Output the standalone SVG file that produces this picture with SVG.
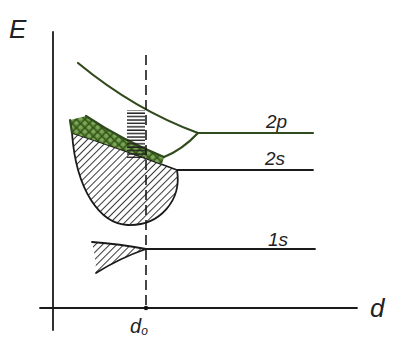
<svg xmlns="http://www.w3.org/2000/svg" width="396" height="340" viewBox="0 0 396 340">
<defs>
<style>
.ln{fill:none;stroke:#1a1a1a;stroke-width:1.8;stroke-linecap:round}
.gr{fill:none;stroke:#2f4a1c;stroke-width:2.2;stroke-linecap:round}
.lbl{font-family:"Liberation Sans",Arial,sans-serif;font-style:italic;fill:#222}
</style>
<pattern id="hatch" patternUnits="userSpaceOnUse" width="5" height="5" patternTransform="rotate(45)">
<rect width="5" height="5" fill="#fff"/>
<line x1="0" y1="0" x2="0" y2="5" stroke="#222" stroke-width="1.8"/>
</pattern>
<pattern id="cross" patternUnits="userSpaceOnUse" width="6" height="6" patternTransform="rotate(45)">
<rect width="6" height="6" fill="#4f7a2a"/>
<circle cx="3" cy="3" r="2" fill="#7fa85a"/>
<path d="M0 0H6M0 0V6" stroke="#1c2e10" stroke-width="1"/>
</pattern>
<pattern id="hlines" patternUnits="userSpaceOnUse" width="4" height="3.4">
<line x1="0" y1="1" x2="4" y2="1" stroke="#222" stroke-width="1.4"/>
</pattern>
</defs>
<g id="axes">
<line class="ln" x1="53" y1="32" x2="53" y2="330"/>
<line class="ln" x1="40" y1="308" x2="357" y2="308"/>
<circle cx="146" cy="308" r="2.2" fill="#111"/>
<text class="lbl" x="9" y="38" font-size="26">E</text>
<text class="lbl" x="370" y="317" font-size="26">d</text>
<text class="lbl" x="130" y="333" font-size="20">d<tspan font-size="12" dy="2">o</tspan></text>
</g>
<g id="band-1s">
<path d="M92 242 Q120 244 146 249 Q120 258 96 273 Q96 258 92 242Z" fill="url(#hatch)"/>
<path class="ln" d="M92 242 Q120 244 146 249 L315 249 M146 249 Q120 258 96 273"/>
<text class="lbl" x="268" y="246" font-size="19">1s</text>
</g>
<g id="band-2s">
<path d="M72 133 Q110 145 177 170 C182 200 160 226 128 225 C100 224 76 190 72 133Z" fill="url(#hatch)"/>
<path class="ln" d="M72 133 Q110 145 177 170 C182 200 160 226 128 225 C100 224 76 190 72 133Z"/>
<line class="ln" x1="177" y1="170" x2="313" y2="170"/>
<text class="lbl" x="265" y="165" font-size="19">2s</text>
</g>
<g id="band-2p">
<path d="M70 120 L86 116 Q122 140 164 157 L162 164 Q110 145 72 133Z" fill="url(#cross)"/>
<path class="gr" d="M70 120 L72 133 M86 116 Q122 140 164 157"/>
<path class="gr" d="M78 63 Q135 110 198 133 L313 133 M198 133 Q182 150 164 157"/>
<rect x="127" y="110" width="18" height="48" fill="url(#hlines)"/>
<text class="lbl" x="266" y="128" font-size="19">2p</text>
</g>
<g id="connectors">
<line x1="146" y1="55" x2="146" y2="308" stroke="#1a1a1a" stroke-width="1.6" stroke-dasharray="10 5"/>
</g>
</svg>
